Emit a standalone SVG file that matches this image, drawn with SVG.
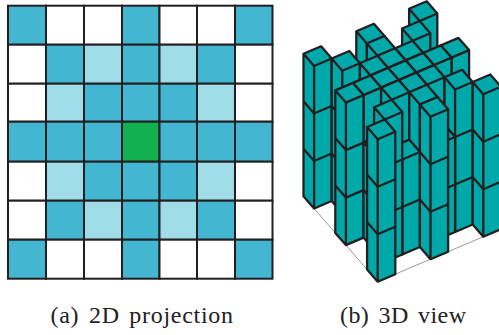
<svg xmlns="http://www.w3.org/2000/svg" width="499" height="335" viewBox="0 0 499 335">
<style>
.d{fill:#43b6d2}.l{fill:#a0dce7}.g{fill:#13b052}.w{fill:#fff}
#grid rect{stroke:#231f20;stroke-width:2}
.p path{fill:#00a9a9;stroke:#231f20;stroke-width:2.3;stroke-linejoin:round}
.p path.n{fill:none}
.cap{font-family:"Liberation Serif","Times New Roman",serif;font-size:24px;fill:#222;word-spacing:3px}
</style>
<defs>
<g id="h3" class="p">
<path d="M0 0L-10.6 -12.2V-154.7L0 -142.5ZM0 0L17.6 -7.5V-150L0 -142.5ZM0 -142.5L-10.6 -154.7L7 -162.2L17.6 -150Z"/>
<path class="n" d="M-10.6 -59.7L0 -47.5L17.6 -55M-10.6 -107.2L0 -95L17.6 -102.5"/>
</g>
<g id="h2" class="p">
<path d="M0 0L-10.6 -12.2V-107.2L0 -95ZM0 0L17.6 -7.5V-102.5L0 -95ZM0 -95L-10.6 -107.2L7 -114.7L17.6 -102.5Z"/>
<path class="n" d="M-10.6 -59.7L0 -47.5L17.6 -55"/>
</g>
</defs>
<rect width="499" height="335" fill="#fff"/>
<g id="grid">
<rect class="d" x="8" y="5.7" width="38" height="39"/><rect class="w" x="46" y="5.7" width="38" height="39"/><rect class="w" x="84" y="5.7" width="38" height="39"/><rect class="d" x="122" y="5.7" width="37.5" height="39"/><rect class="w" x="159.5" y="5.7" width="37.5" height="39"/><rect class="w" x="197" y="5.7" width="38" height="39"/><rect class="d" x="235" y="5.7" width="37.5" height="39"/>
<rect class="w" x="8" y="44.7" width="38" height="39"/><rect class="d" x="46" y="44.7" width="38" height="39"/><rect class="l" x="84" y="44.7" width="38" height="39"/><rect class="d" x="122" y="44.7" width="37.5" height="39"/><rect class="l" x="159.5" y="44.7" width="37.5" height="39"/><rect class="d" x="197" y="44.7" width="38" height="39"/><rect class="w" x="235" y="44.7" width="37.5" height="39"/>
<rect class="w" x="8" y="83.7" width="38" height="38"/><rect class="l" x="46" y="83.7" width="38" height="38"/><rect class="d" x="84" y="83.7" width="38" height="38"/><rect class="d" x="122" y="83.7" width="37.5" height="38"/><rect class="d" x="159.5" y="83.7" width="37.5" height="38"/><rect class="l" x="197" y="83.7" width="38" height="38"/><rect class="w" x="235" y="83.7" width="37.5" height="38"/>
<rect class="d" x="8" y="121.7" width="38" height="40"/><rect class="d" x="46" y="121.7" width="38" height="40"/><rect class="d" x="84" y="121.7" width="38" height="40"/><rect class="g" x="122" y="121.7" width="37.5" height="40"/><rect class="d" x="159.5" y="121.7" width="37.5" height="40"/><rect class="d" x="197" y="121.7" width="38" height="40"/><rect class="d" x="235" y="121.7" width="37.5" height="40"/>
<rect class="w" x="8" y="161.7" width="38" height="39"/><rect class="l" x="46" y="161.7" width="38" height="39"/><rect class="d" x="84" y="161.7" width="38" height="39"/><rect class="d" x="122" y="161.7" width="37.5" height="39"/><rect class="d" x="159.5" y="161.7" width="37.5" height="39"/><rect class="l" x="197" y="161.7" width="38" height="39"/><rect class="w" x="235" y="161.7" width="37.5" height="39"/>
<rect class="w" x="8" y="200.7" width="38" height="39"/><rect class="d" x="46" y="200.7" width="38" height="39"/><rect class="l" x="84" y="200.7" width="38" height="39"/><rect class="d" x="122" y="200.7" width="37.5" height="39"/><rect class="l" x="159.5" y="200.7" width="37.5" height="39"/><rect class="d" x="197" y="200.7" width="38" height="39"/><rect class="w" x="235" y="200.7" width="37.5" height="39"/>
<rect class="d" x="8" y="239.7" width="38" height="39"/><rect class="w" x="46" y="239.7" width="38" height="39"/><rect class="w" x="84" y="239.7" width="38" height="39"/><rect class="d" x="122" y="239.7" width="37.5" height="39"/><rect class="w" x="159.5" y="239.7" width="37.5" height="39"/><rect class="w" x="197" y="239.7" width="38" height="39"/><rect class="d" x="235" y="239.7" width="37.5" height="39"/>
</g>
<path d="M314.1 208.5L377.7 281.7L483.3 236.7" fill="none" stroke="#999" stroke-width="1"/>
<g id="pillars">
<use href="#h3" x="419.7" y="163.5"/>
<use href="#h3" x="412.7" y="183.2"/>
<use href="#h3" x="366.9" y="186"/>
<use href="#h2" x="395.1" y="190.7"/>
<use href="#h2" x="423.3" y="195.4"/>
<use href="#h3" x="451.5" y="200.1"/>
<use href="#h3" x="405.7" y="202.9"/>
<use href="#h3" x="377.5" y="198.2"/>
<use href="#h3" x="433.9" y="207.6"/>
<use href="#h2" x="359.9" y="205.7"/>
<use href="#h3" x="388.1" y="210.4"/>
<use href="#h3" x="416.3" y="215.1"/>
<use href="#h2" x="444.5" y="219.8"/>
<use href="#h3" x="314.1" y="208.5"/>
<use href="#h3" x="342.3" y="213.2"/>
<use href="#h3" x="370.5" y="217.9"/>
<use href="#h3" x="398.7" y="222.6"/>
<use href="#h3" x="426.9" y="227.3"/>
<use href="#h3" x="455.1" y="232"/>
<use href="#h3" x="483.3" y="236.7"/>
<use href="#h2" x="352.9" y="225.4"/>
<use href="#h3" x="381.1" y="230.1"/>
<use href="#h3" x="409.3" y="234.8"/>
<use href="#h2" x="437.5" y="239.5"/>
<use href="#h3" x="363.5" y="237.6"/>
<use href="#h3" x="391.7" y="242.3"/>
<use href="#h3" x="419.9" y="247"/>
<use href="#h3" x="345.9" y="245.1"/>
<use href="#h2" x="374.1" y="249.8"/>
<use href="#h2" x="402.3" y="254.5"/>
<use href="#h3" x="430.5" y="259.2"/>
<use href="#h3" x="384.7" y="262"/>
<use href="#h3" x="377.7" y="281.7"/>
</g>
<text class="cap" x="50.5" y="323" letter-spacing="0.7">(a) 2D projection</text>
<text class="cap" x="340" y="323" letter-spacing="0.4">(b) 3D view</text>
</svg>
